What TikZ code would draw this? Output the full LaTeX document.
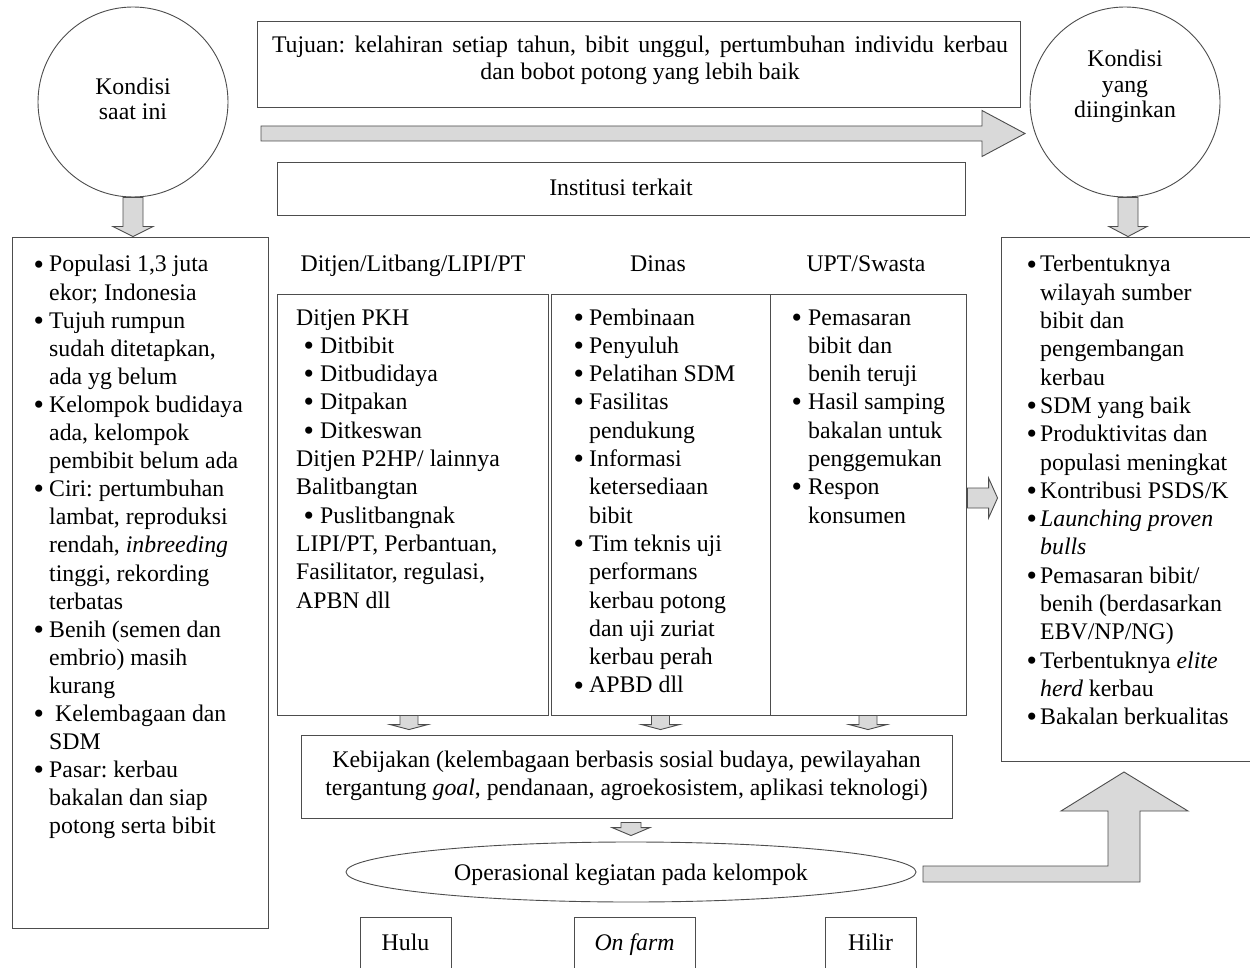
\documentclass[tikz,border=0pt]{standalone}
\usepackage{fontspec}
\setmainfont{Liberation Serif}
\usetikzlibrary{shapes.geometric,calc}
\definecolor{linec}{HTML}{4D4D4D}
\definecolor{arrfill}{HTML}{D9D9D9}
\frenchspacing
\newcommand{\ml}[2]{\begin{tabular}[t]{@{}#1@{}}#2\end{tabular}}
\newcommand{\bu}[1]{\makebox[#1pt][l]{\hspace{-1.5pt}\raisebox{-2.1pt}{\scalebox{1.25}{\textbullet}}}}
\newcommand{\downblock}[5]{\draw[blockarr] let \p1=#1, \p2=#2 in (\x1-#3,\y1) -- (\x1-#3,\y2+#5) -- (\x1-#4,\y2+#5) -- (\x1,\y2) -- (\x1+#4,\y2+#5) -- (\x1+#3,\y2+#5) -- (\x1+#3,\y1) -- cycle;}
\newcommand{\rightblock}[5]{\draw[blockarr] let \p1=#1, \p2=#2 in (\x1,\y1+#3) -- (\x2-#5,\y1+#3) -- (\x2-#5,\y1+#4) -- (\x2,\y1) -- (\x2-#5,\y1-#4) -- (\x2-#5,\y1-#3) -- (\x1,\y1-#3) -- cycle;}
\tikzset{
  box/.style={draw=linec, line width=0.9pt, rectangle, inner sep=0pt},
  circ/.style={draw=linec, line width=0.9pt, circle, inner sep=0pt, minimum size=190pt},
  blockarr/.style={draw=linec, line width=0.9pt, fill=arrfill, line join=miter},
  txt/.style={inner sep=0pt},
}
\begin{document}
\begin{tikzpicture}[x=1pt,y=-1pt, every node/.append style={font=\fontsize{23.8}{28.3}\selectfont}]
\useasboundingbox (0,0) rectangle (1250,968);
\fill[white] (0,0) rectangle (1250,968);

% circles
\node[circ] (kini) at (133,102) {};
\node[txt, anchor=base, font=\fontsize{23.8}{25}\selectfont] (kinitext) at (133,95) {\ml{c}{Kondisi\\saat ini}};
\node[circ] (ingin) at (1125,102) {};
\node[txt, anchor=base, font=\fontsize{23.8}{25.5}\selectfont] (ingintext) at (1125,67) {\ml{c}{Kondisi\\yang\\diinginkan}};

% top boxes
\node[box, minimum width=763pt, minimum height=86pt] (tujuan) at (638.5,64) {};
\node[txt, anchor=base, font=\fontsize{23.8}{27}\selectfont] (tujuantext) at (640,53) {\ml{c}{\makebox[736pt][s]{Tujuan: kelahiran setiap tahun, bibit unggul, pertumbuhan individu kerbau}\\dan bobot potong yang lebih baik}};

\coordinate (bigA) at (261,133.5);
\coordinate (bigB) at (1025,133.5);
\rightblock{(bigA)}{(bigB)}{7.5}{23}{43}

\node[box, minimum width=688pt, minimum height=53pt, text height=15pt, text depth=0pt] (inst) at (621,188.5) {Institusi terkait};

% side boxes
\node[box, minimum width=256pt, minimum height=691pt] (kiri) at (140,582.5) {};
\node[box, minimum width=251pt, minimum height=524pt] (kanan) at (1126.5,499) {};

% column headers
\node[txt, anchor=base] (h1) at (413,272) {Ditjen/Litbang/LIPI/PT};
\node[txt, anchor=base] (h2) at (658,272) {Dinas};
\node[txt, anchor=base] (h3) at (866,272) {UPT/Swasta};

% column boxes
\node[box, minimum width=271pt, minimum height=421pt] (col1) at (412.5,504.5) {};
\node[box, minimum width=219pt, minimum height=421pt] (col2) at (660.5,504.5) {};
\node[box, minimum width=196pt, minimum height=421pt] (col3) at (868,504.5) {};

% lists
\node[txt, anchor=base west, font=\fontsize{23.8}{28.1}\selectfont] (kirilist) at (35,272) {\ml{l@{}l}{%
\bu{14} & Populasi 1,3 juta\\
 & ekor; Indonesia\\
\bu{14} & Tujuh rumpun\\
 & sudah ditetapkan,\\
 & ada yg belum\\
\bu{14} & Kelompok budidaya\\
 & ada, kelompok\\
 & pembibit belum ada\\
\bu{14} & Ciri: pertumbuhan\\
 & lambat, reproduksi\\
 & rendah, \textit{inbreeding}\\
 & tinggi, rekording\\
 & terbatas\\
\bu{14} & Benih (semen dan\\
 & embrio) masih\\
 & kurang\\
\bu{14} & \hspace{6pt}Kelembagaan dan\\
 & SDM\\
\bu{14} & Pasar: kerbau\\
 & bakalan dan siap\\
 & potong serta bibit}};

\node[txt, anchor=base west] (col1list) at (296,325) {\ml{l@{}l}{%
\multicolumn{2}{@{}l@{}}{Ditjen PKH}\\
\hspace{9pt}\bu{15} & Ditbibit\\
\hspace{9pt}\bu{15} & Ditbudidaya\\
\hspace{9pt}\bu{15} & Ditpakan\\
\hspace{9pt}\bu{15} & Ditkeswan\\
\multicolumn{2}{@{}l@{}}{Ditjen P2HP/ lainnya}\\
\multicolumn{2}{@{}l@{}}{Balitbangtan}\\
\hspace{9pt}\bu{15} & Puslitbangnak\\
\multicolumn{2}{@{}l@{}}{LIPI/PT, Perbantuan,}\\
\multicolumn{2}{@{}l@{}}{Fasilitator, regulasi,}\\
\multicolumn{2}{@{}l@{}}{APBN dll}}};

\node[txt, anchor=base west] (col2list) at (575,325) {\ml{l@{}l}{%
\bu{14} & Pembinaan\\
\bu{14} & Penyuluh\\
\bu{14} & Pelatihan SDM\\
\bu{14} & Fasilitas\\
 & pendukung\\
\bu{14} & Informasi\\
 & ketersediaan\\
 & bibit\\
\bu{14} & Tim teknis uji\\
 & performans\\
 & kerbau potong\\
 & dan uji zuriat\\
 & kerbau perah\\
\bu{14} & APBD dll}};

\node[txt, anchor=base west] (col3list) at (793,325) {\ml{l@{}l}{%
\bu{15} & Pemasaran\\
 & bibit dan\\
 & benih teruji\\
\bu{15} & Hasil samping\\
 & bakalan untuk\\
 & penggemukan\\
\bu{15} & Respon\\
 & konsumen}};

\node[txt, anchor=base west] (kananlist) at (1028,272) {\ml{l@{}l}{%
\bu{12} & Terbentuknya\\
 & wilayah sumber\\
 & bibit dan\\
 & pengembangan\\
 & kerbau\\
\bu{12} & SDM yang baik\\
\bu{12} & Produktivitas dan\\
 & populasi meningkat\\
\bu{12} & Kontribusi PSDS/K\\
\bu{12} & \textit{Launching proven}\\
 & \textit{bulls}\\
\bu{12} & Pemasaran bibit/\\
 & benih (berdasarkan\\
 & EBV/NP/NG)\\
\bu{12} & Terbentuknya \textit{elite}\\
 & \textit{herd} kerbau\\
\bu{12} & Bakalan berkualitas}};

% policy box, ellipse, bottom boxes
\node[box, minimum width=651pt, minimum height=83pt] (keb) at (626.5,776.5) {};
\node[txt, anchor=base] (kebtext) at (626.5,767) {\ml{c}{Kebijakan (kelembagaan berbasis sosial budaya, pewilayahan\\tergantung \textit{goal}, pendanaan, agroekosistem, aplikasi teknologi)}};
\node[draw=linec, line width=0.9pt, ellipse, inner sep=0pt, minimum width=570pt, minimum height=60pt, text height=16pt, text depth=0pt] (ops) at (631,872) {Operasional kegiatan pada kelompok};
\node[box, minimum width=91pt, minimum height=53pt, text height=13pt, text depth=0pt] (hulu) at (405.5,943.5) {Hulu};
\node[box, minimum width=121pt, minimum height=53pt, text height=13pt, text depth=0pt] (onfarm) at (634.5,943.5) {\textit{On farm}};
\node[box, minimum width=91pt, minimum height=53pt, text height=13pt, text depth=0pt] (hilir) at (870.5,943.5) {Hilir};

% block arrows
\downblock{(kini.south)}{(kini.south |- kiri.north)}{10}{20}{10}
\coordinate (ia) at ($(ingin.south)+(3,0)$);
\downblock{(ia)}{(ia |- kanan.north)}{10}{19}{10}
\coordinate (c1a) at ($(col1.south)+(-3.5,0)$);
\downblock{(c1a)}{($(c1a |- keb.north)+(0,-5)$)}{9}{19}{5}
\downblock{(col2.south)}{($(col2.south |- keb.north)+(0,-5)$)}{9}{19}{5}
\downblock{(col3.south)}{($(col3.south |- keb.north)+(0,-5)$)}{9}{19}{5}
\downblock{($(ops.north |- keb.south)+(0,4)$)}{($(ops.north)+(0,-6)$)}{10}{19}{8}
\coordinate (ma) at ($(col3.east)+(1,-6.5)$);
\coordinate (mb) at ($(ma -| kanan.west)+(-3,0)$);
\rightblock{(ma)}{(mb)}{10}{20}{9}
\draw[blockarr] (923,866) -- (1108,866) -- (1108,811) -- (1061,811) -- (1124,772) -- (1188,811) -- (1140,811) -- (1140,882) -- (923,882) -- cycle;
\end{tikzpicture}
\end{document}
